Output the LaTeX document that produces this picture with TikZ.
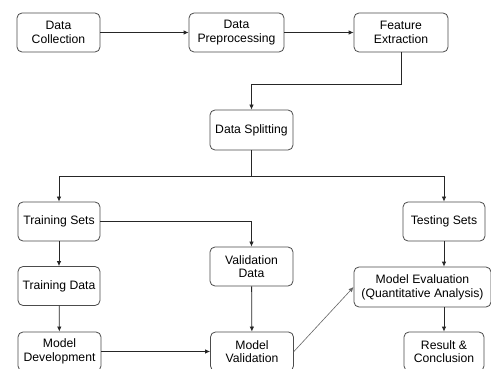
\documentclass[tikz,border=0pt]{standalone}
\usepackage{fontspec}
\setmainfont{Liberation Sans}
\usetikzlibrary{arrows.meta}
\begin{document}
\begin{tikzpicture}[x=1pt,y=-1pt,
  box/.style={draw=black!70, line width=0.8pt, rounded corners=5pt, align=center,
    inner sep=0pt, minimum height=39pt, font=\fontsize{12.2}{13.7}\selectfont},
  arr/.style={draw=black!85, line width=0.8pt, -{Latex[length=5pt,width=4.5pt]}},
  thin arr/.style={draw=black!60, line width=0.6pt, -{Latex[length=5pt,width=4.5pt]}}]
  \useasboundingbox[fill=white] (0,0) rectangle (491,369);
  \begin{scope}
  \clip (0,0) rectangle (491,369);
  % top row
  \node[box, minimum width=83pt] (dc) at (58.5,32.5) {Data\\Collection};
  \node[box, minimum width=95pt] (dp) at (236.5,32.5) {Data\\Preprocessing};
  \node[box, minimum width=94pt] (fe) at (401,32.5) {Feature\\Extraction};
  % splitting
  \node[box, minimum width=83pt, minimum height=40pt] (ds) at (251.5,130) {Data Splitting};
  % second level
  \node[box, minimum width=82pt] (ts) at (59,221.5) {Training Sets};
  \node[box, minimum width=82pt] (tes) at (444,221.5) {Testing Sets};
  \node[box, minimum width=83pt] (vd) at (251.5,266.5) {Validation\\Data};
  \node[box, minimum width=82pt] (td) at (59,286) {Training Data};
  \node[box, minimum width=137pt, minimum height=40pt] (me) at (422.5,287) {Model Evaluation\\(Quantitative Analysis)};
  % bottom row
  \node[box, minimum width=83pt] (md) at (59.5,351.5) {Model\\Development};
  \node[box, minimum width=83pt] (mv) at (252,351.5) {Model\\Validation};
  \node[box, minimum width=80pt] (rc) at (444,351.5) {Result \&\\Conclusion};
  % connectors
  \draw[arr] (dc) -- (dp);
  \draw[arr] (dp) -- (fe);
  \draw[arr] (fe.south) -- ++(0,32) -| (ds.north);
  \draw[arr] (ds.south) -- ++(0,25.7) -| (ts.north);
  \draw[arr] (ds.south) -- ++(0,25.7) -| (tes.north);
  \draw[arr] (ts.east) -| (vd.north);
  \draw[arr] (ts) -- (td);
  \draw[arr] (td) -- (md);
  \draw[arr] (md) -- (mv);
  \draw[arr] (vd) -- (mv);
  \draw[arr] (tes.south) -- (tes.south |- me.north);
  \draw[arr] (rc.north |- me.south) -- (rc.north);
  \draw[thin arr] (mv.east) -- (me.west);
  \end{scope}
\end{tikzpicture}
\end{document}
